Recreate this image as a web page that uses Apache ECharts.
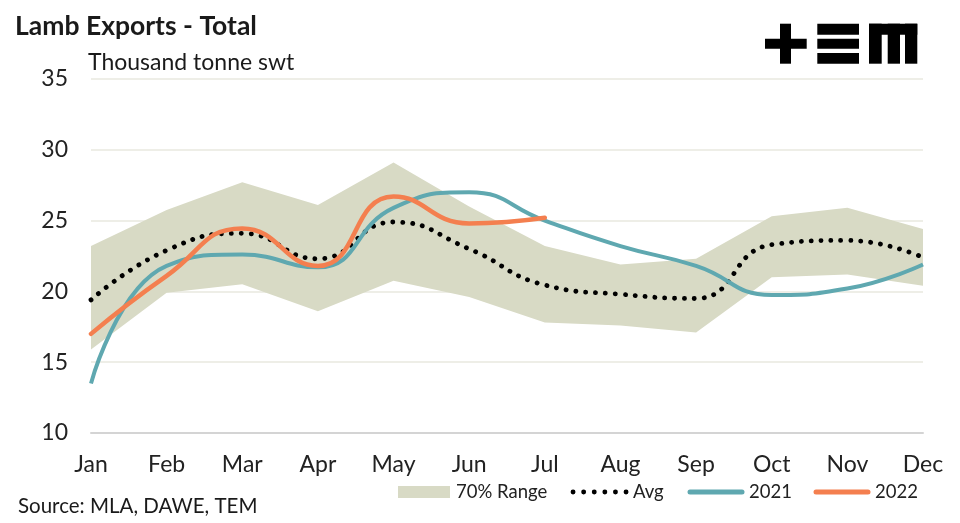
<!DOCTYPE html>
<html><head><meta charset="utf-8">
<script src="https://cdn.jsdelivr.net/npm/echarts@6/dist/echarts.min.js"></script>
<style>html,body{margin:0;padding:0;background:#fff}#c{width:960px;height:523px}</style>
</head><body><div id="c"></div>
<script>
const months = ['Jan','Feb','Mar','Apr','May','Jun','Jul','Aug','Sep','Oct','Nov','Dec'];
const rangeLow  = [15.9, 19.9, 20.5, 18.6, 20.75, 19.6, 17.8, 17.6, 17.1, 21.0, 21.2, 20.4];
const rangeHigh = [23.2, 25.75, 27.7, 26.1, 29.1, 26.0, 23.2, 21.9, 22.3, 25.3, 25.9, 24.4];
const avg   = [19.4, 22.9, 24.1, 22.3, 24.9, 23.0, 20.45, 19.8, 19.5, 23.3, 23.6, 22.4];
const y2021 = [13.5, 21.8, 22.6, 21.7, 25.9, 27.0, 25.0, 23.2, 21.8, 19.75, 20.2, 21.9];
const y2022 = [17.0, 21.1, 24.45, 21.8, 26.7, 24.8, 25.2, null, null, null, null, null];
const yTicks = {min: 10, max: 35, step: 5};
const legendNames = ['70% Range', 'Avg', '2021', '2022'];

const FONT = 'Lato';
const C_BAND = '#d8dac5', C_AVG = '#000', C_21 = '#5fa8b0', C_22 = '#f47f4f';
const rangeSpan = rangeHigh.map((h, i) => +(h - rangeLow[i]).toFixed(2));

// manual legend (icons + labels)
const LY = 492;
const LF = '18.5px Lato';
const legendGraphics = [
  {type: 'rect', shape: {x: 398, y: LY - 6, width: 52, height: 12}, style: {fill: C_BAND}},
  {type: 'text', x: 456, y: LY, style: {text: legendNames[0], font: LF, fill: '#222', textVerticalAlign: 'middle'}},
  {type: 'line', shape: {x1: 573, y1: LY, x2: 627, y2: LY},
   style: {stroke: C_AVG, lineWidth: 4.8, lineDash: [0.1, 10.5], lineCap: 'round'}},
  {type: 'text', x: 633, y: LY, style: {text: legendNames[1], font: LF, fill: '#222', textVerticalAlign: 'middle'}},
  {type: 'line', shape: {x1: 690, y1: LY, x2: 742, y2: LY},
   style: {stroke: C_21, lineWidth: 5, lineCap: 'round'}},
  {type: 'text', x: 749, y: LY, style: {text: legendNames[2], font: LF, fill: '#222', textVerticalAlign: 'middle'}},
  {type: 'line', shape: {x1: 816, y1: LY, x2: 868, y2: LY},
   style: {stroke: C_22, lineWidth: 5, lineCap: 'round'}},
  {type: 'text', x: 875, y: LY, style: {text: legendNames[3], font: LF, fill: '#222', textVerticalAlign: 'middle'}}
];

const logo = {type: 'group', children: [
  {type: 'rect', shape: {x: 765, y: 38.7, width: 41.7, height: 10}, style: {fill: '#000'}},
  {type: 'rect', shape: {x: 780, y: 23.7, width: 11, height: 40}, style: {fill: '#000'}},
  {type: 'rect', shape: {x: 817.3, y: 23.7, width: 41.7, height: 11}, style: {fill: '#000'}},
  {type: 'rect', shape: {x: 817.3, y: 38.7, width: 41.7, height: 10}, style: {fill: '#000'}},
  {type: 'rect', shape: {x: 817.3, y: 53, width: 41.7, height: 10.7}, style: {fill: '#000'}},
  {type: 'rect', shape: {x: 869, y: 23.7, width: 48.3, height: 11}, style: {fill: '#000'}},
  {type: 'rect', shape: {x: 869, y: 23.7, width: 12.7, height: 40}, style: {fill: '#000'}},
  {type: 'rect', shape: {x: 887.7, y: 23.7, width: 12.3, height: 40}, style: {fill: '#000'}},
  {type: 'rect', shape: {x: 905, y: 23.7, width: 12.3, height: 40}, style: {fill: '#000'}}
]};

const chart = echarts.init(document.getElementById('c'), null, {renderer: 'canvas'});
chart.setOption({
  animation: false,
  textStyle: {fontFamily: FONT},
  grid: {left: 91, right: 37, top: 79, bottom: 90},
  xAxis: {
    type: 'category', data: months, boundaryGap: false,
    axisLine: {lineStyle: {color: '#d4d4d4', width: 2}},
    axisTick: {show: false},
    axisLabel: {fontSize: 23, color: '#222', margin: 20, fontFamily: FONT}
  },
  yAxis: {
    type: 'value', min: yTicks.min, max: yTicks.max, interval: yTicks.step,
    axisLine: {show: false}, axisTick: {show: false},
    axisLabel: {fontSize: 23, color: '#222', margin: 23, fontFamily: FONT},
    splitLine: {lineStyle: {color: '#e9e9df', width: 1.5}}
  },
  graphic: [
    {type: 'text', left: 15, top: 13, style: {text: 'Lamb Exports - Total', font: 'bold 26.5px Lato', fill: '#1a1a1a'}},
    {type: 'text', left: 88, top: 51, style: {text: 'Thousand tonne swt', font: '23px Lato', fill: '#1a1a1a'}},
    {type: 'text', left: 18, top: 496, style: {text: 'Source: MLA, DAWE, TEM', font: '20.5px Lato', fill: '#1a1a1a'}},
    logo
  ].concat(legendGraphics),
  series: [
    {name: 'base', type: 'line', stack: 'band', data: rangeLow, symbol: 'none',
     lineStyle: {width: 0, opacity: 0}, silent: true},
    {name: legendNames[0], type: 'line', stack: 'band', data: rangeSpan, symbol: 'none',
     itemStyle: {color: C_BAND}, lineStyle: {width: 0, opacity: 0},
     areaStyle: {color: C_BAND, opacity: 1}},
    {name: legendNames[1], type: 'line', data: avg, smooth: true, symbol: 'none',
     itemStyle: {color: C_AVG},
     lineStyle: {color: C_AVG, width: 4.8, type: [0.1, 9.8], cap: 'round'}},
    {name: legendNames[2], type: 'line', data: y2021, smooth: true, symbol: 'none',
     itemStyle: {color: C_21}, lineStyle: {color: C_21, width: 4}},
    {name: legendNames[3], type: 'line', data: y2022, smooth: true, symbol: 'none',
     itemStyle: {color: C_22}, lineStyle: {color: C_22, width: 4.5, cap: 'round'}}
  ]
});
</script></body></html>
